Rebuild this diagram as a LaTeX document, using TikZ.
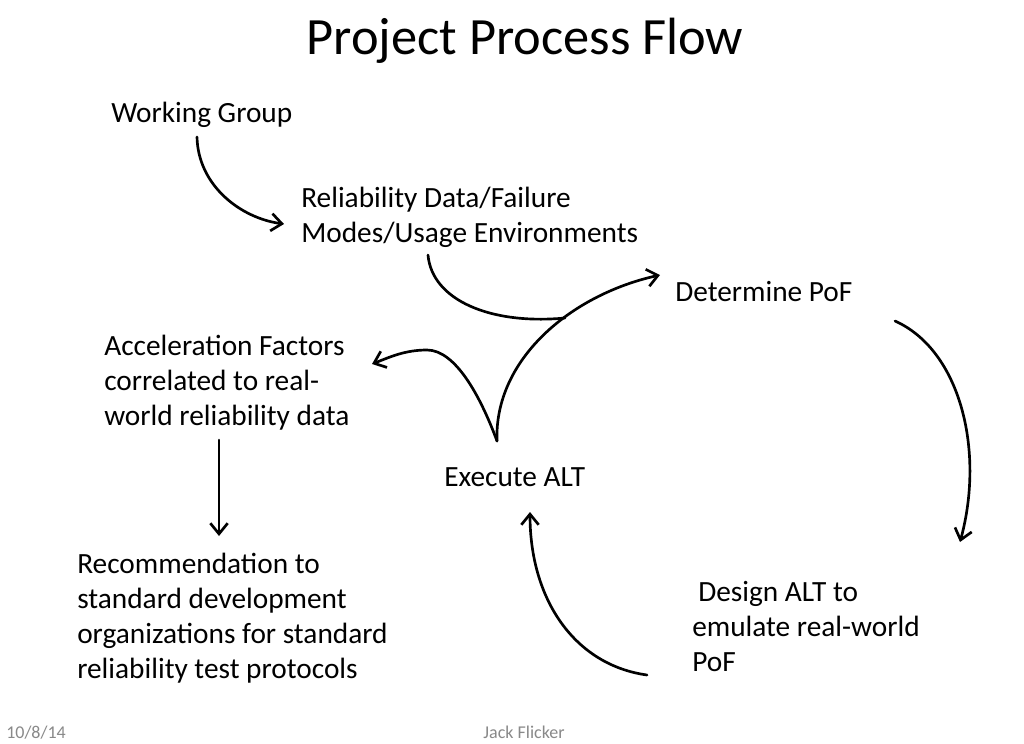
\documentclass[tikz,border=0pt]{standalone}
\usepackage{fontspec}
\setmainfont{Carlito}
\usetikzlibrary{arrows.meta}
\definecolor{footgray}{RGB}{137,137,137}
\begin{document}
\begin{tikzpicture}[x=0.75pt,y=-0.75pt,
  lbl/.style={inner sep=0pt, font=\fontsize{22}{26.25}\selectfont, align=left},
  ttl/.style={inner sep=0pt, font=\fontsize{39.3}{46}\selectfont},
  foot/.style={inner sep=0pt, font=\fontsize{13.5}{15}\selectfont, text=footgray},
  conn/.style={line width=2pt, line cap=round},
  arr/.style={conn, -{Straight Barb[length=8pt,width=13pt,line width=2pt]}}]
\useasboundingbox (0,0) rectangle (1024,743);
\fill[white] (0,0) rectangle (1024,743);

\node[ttl, anchor=base] (title) at (525,54) {Project Process Flow};

\node[lbl, anchor=base west] (wg) at (111,122) {Working Group};
\node[lbl, anchor=west] (rel) at (301,217) {Reliability Data/Failure\\Modes/Usage Environments};
\node[lbl, anchor=base west] (pof) at (675,301) {Determine PoF};
\node[lbl, anchor=west] (af) at (104,383) {Acceleration Factors\\correlated to real-\\world reliability data};
\node[lbl, anchor=base west] (exe) at (444,486) {Execute ALT};
\node[lbl, anchor=west] (rec) at (77,618.5) {Recommendation to\\standard development\\organizations for standard\\reliability test protocols};
\node[lbl, anchor=west] (des) at (692,626) {\hspace{4.5pt}Design ALT to\\emulate real-world\\PoF};

\node[foot, anchor=base west] (date) at (6,738) {10/8/14};
\node[foot, anchor=base] (author) at (524,738) {Jack Flicker};

% connector end points
\coordinate (wg-out) at (197,137);
\coordinate (rel-in) at (284,224);
\coordinate (rel-out) at (428,255);
\coordinate (meet) at (565,318);
\coordinate (exe-out) at (497,441);
\coordinate (pof-in) at (660,275);
\coordinate (af-in) at (372,364);
\coordinate (pof-out) at (895,321);
\coordinate (des-in) at (960,542);
\coordinate (des-out) at (647,675);
\coordinate (exe-in) at (530,512);
\coordinate (af-out) at (219,440);
\coordinate (rec-in) at (219,536);

\draw[arr] (wg-out) .. controls (198,185) and (240,218) .. (rel-in);
\draw[conn] (rel-out) .. controls (432,300) and (490,325) .. (meet);
\draw[arr] (exe-out) .. controls (494,360) and (570,295) .. (pof-in);
\draw[arr] (exe-out) .. controls (480,395) and (455,350) .. (427,350) .. controls (405,350) and (390,357) .. (af-in);
\draw[arr] (pof-out) .. controls (960,350) and (985,450) .. (des-in);
\draw[arr] (des-out) .. controls (575,665) and (530,600) .. (exe-in);
\draw[arr] (af-out) -- (rec-in);
\end{tikzpicture}
\end{document}
